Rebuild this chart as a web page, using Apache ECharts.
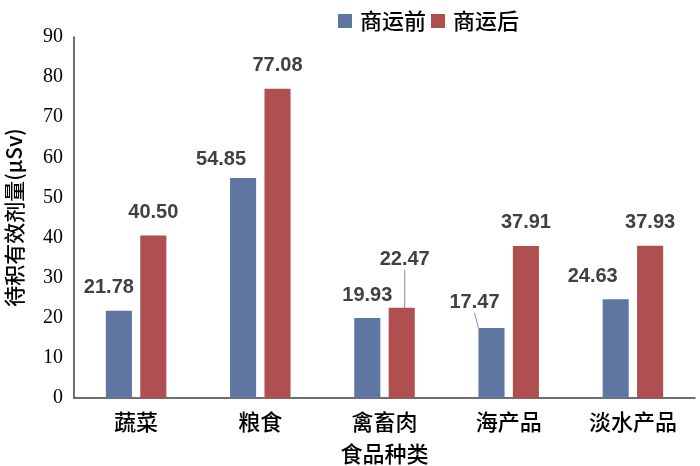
<!DOCTYPE html>
<html>
<head>
<meta charset="utf-8">
<script src="https://cdn.jsdelivr.net/npm/echarts@6/dist/echarts.min.js"></script>
<style>html,body{margin:0;padding:0;background:#fff}#c{width:700px;height:466px}</style>
</head>
<body>
<div id="c"></div>
<script>
var categories = ['蔬菜', '粮食', '禽畜肉', '海产品', '淡水产品'];
var seriesNames = ['商运前', '商运后'];
var before = [21.78, 54.85, 19.93, 17.47, 24.63];
var after = [40.50, 77.08, 22.47, 37.91, 37.93];
var yTicks = [0, 90, 10];

// label nudges (px) to mimic the reference placement
var beforeShift = [[-10, 0], [-22, 4], [0, 0], [-17, -2], [-23, 0]];
var afterShift = [[0, 0], [0, 0], [3, -25], [0, 0], [0, 0]];
var beforeLine = [false, false, false, true, false];
var afterLine = [false, false, true, false, false];

var serifFont = '"Liberation Serif", "DejaVu Serif", "Noto Sans CJK SC", serif';
var cjkFont = '"Noto Sans CJK SC", "Liberation Serif", serif';

function mkData(vals, lines) {
  return vals.map(function (v, i) {
    return { value: v, labelLine: { show: lines[i], lineStyle: { color: '#8c8c8c', width: 1 } } };
  });
}

var chart = echarts.init(document.getElementById('c'));
chart.setOption({
  animation: false,
  color: ['#5f76a3', '#b04f4f'],
  legend: {
    top: 5,
    left: 333,
    icon: 'rect',
    itemWidth: 14,
    itemHeight: 14,
    itemGap: 5,
    textStyle: { fontSize: 22, fontWeight: 500, color: '#000', fontFamily: cjkFont, padding: [0, 0, 0, 3] },
    data: seriesNames
  },
  grid: { left: 74, right: 5, top: 37, bottom: 68, containLabel: false, outerBoundsMode: 'none' },
  xAxis: {
    type: 'category',
    data: categories,
    name: '食品种类',
    nameLocation: 'middle',
    nameGap: 45,
    nameTextStyle: { fontSize: 22, fontWeight: 500, color: '#000', fontFamily: cjkFont },
    axisLine: { lineStyle: { color: '#404040', width: 1.5 } },
    axisTick: { show: false },
    axisLabel: { fontSize: 22, fontWeight: 500, color: '#000', fontFamily: cjkFont, margin: 13 }
  },
  yAxis: {
    type: 'value',
    min: yTicks[0],
    max: yTicks[1],
    interval: yTicks[2],
    name: '待积有效剂量(μSv)',
    nameLocation: 'middle',
    nameGap: 49,
    nameRotate: 90,
    nameTextStyle: { fontSize: 21, fontWeight: 500, color: '#000', fontFamily: cjkFont },
    axisLine: { show: true, lineStyle: { color: '#404040', width: 1.5 } },
    axisTick: { show: false },
    splitLine: { show: false },
    axisLabel: { fontSize: 20, color: '#000', fontFamily: serifFont, margin: 11 }
  },
  series: [
    {
      name: seriesNames[0],
      type: 'bar',
      data: mkData(before, beforeLine),
      barWidth: '21%',
      barGap: '32%',
      label: {
        show: true, position: 'top', distance: 13,
        fontSize: 20, fontWeight: 'bold', color: '#404040',
        fontFamily: '"Liberation Sans", Arial, sans-serif',
        formatter: function (p) { return p.value.toFixed(2); }
      },
      labelLayout: function (p) {
        var s = beforeShift[p.dataIndex];
        return { dx: s[0], dy: s[1] };
      }
    },
    {
      name: seriesNames[1],
      type: 'bar',
      data: mkData(after, afterLine),
      barWidth: '21%',
      barGap: '32%',
      label: {
        show: true, position: 'top', distance: 13,
        fontSize: 20, fontWeight: 'bold', color: '#404040',
        fontFamily: '"Liberation Sans", Arial, sans-serif',
        formatter: function (p) { return p.value.toFixed(2); }
      },
      labelLayout: function (p) {
        var s = afterShift[p.dataIndex];
        return { dx: s[0], dy: s[1] };
      }
    }
  ]
});
</script>
</body>
</html>
